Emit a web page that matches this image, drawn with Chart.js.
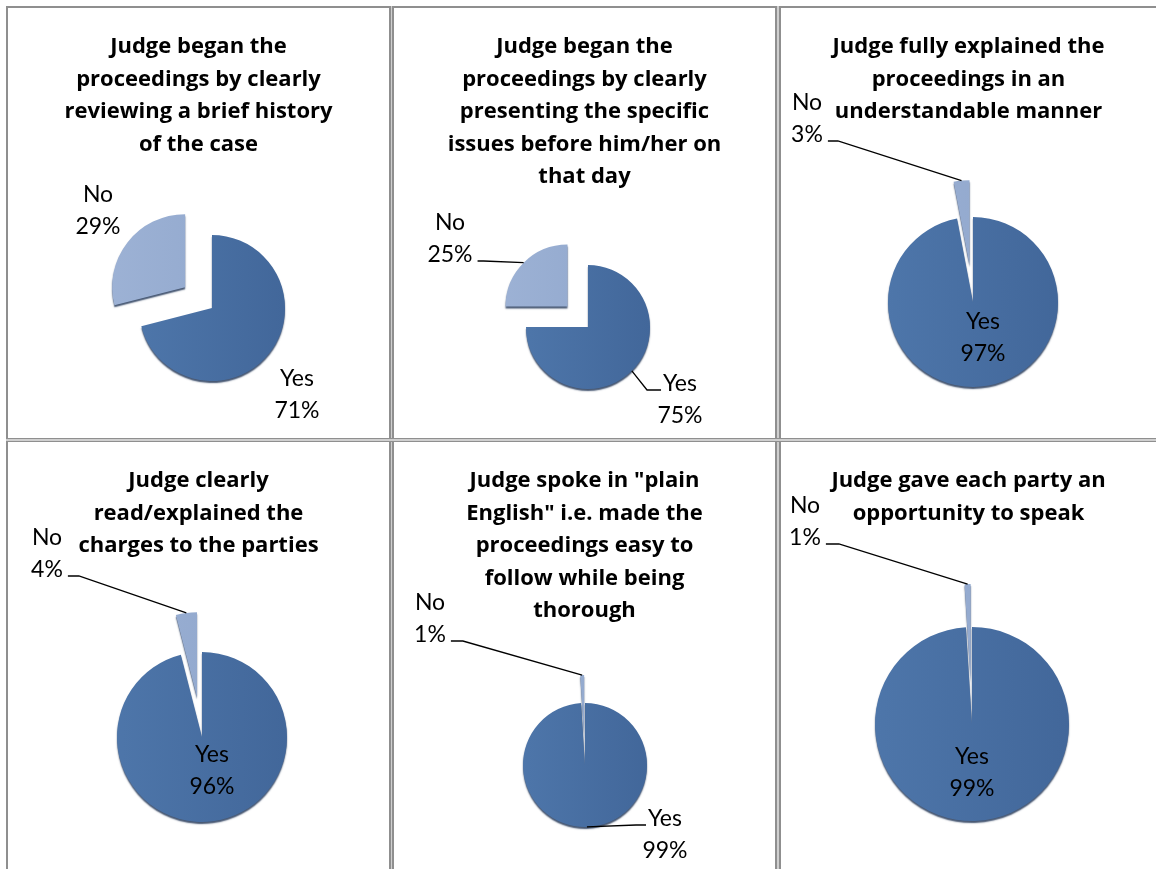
<!DOCTYPE html>
<html>
<head>
<meta charset="utf-8">
<title>Courtroom observation – judge conduct</title>
<script src="https://cdn.jsdelivr.net/npm/chart.js@4/dist/chart.umd.min.js"></script>
<style>
  html, body { margin: 0; padding: 0; background: #fff; }
  body { width: 1156px; height: 869px; position: relative; overflow: hidden; }
  .rule { position: absolute; background: #8f8f8f; }
  .rule.soft { background: #cfcfcf; }
  canvas { position: absolute; }
</style>
</head>
<body>
<script>
// ---- survey results -------------------------------------------------------
const categories = ['Yes', 'No'];
const yesShare = [71, 75, 97, 96, 99, 99];
const noShare  = [29, 25, 3, 4, 1, 1];

const questionTitles = [
  ['Judge began the', 'proceedings by clearly', 'reviewing a brief history', 'of the case'],
  ['Judge began the', 'proceedings by clearly', 'presenting the specific', 'issues before him/her on', 'that day'],
  ['Judge fully explained the', 'proceedings in an', 'understandable manner'],
  ['Judge clearly', 'read/explained the', 'charges to the parties'],
  ['Judge spoke in "plain', 'English" i.e. made the', 'proceedings easy to', 'follow while being', 'thorough'],
  ['Judge gave each party an', 'opportunity to speak']
];

// ---- page layout ----------------------------------------------------------
const COLS = [[8, 389], [394, 775], [781, 1156]];
const ROWS = [[8, 438], [442, 869]];
const TITLE_BASE = [53, 487];
const TITLE_STEP = 32.5;
const LABEL_STEP = 32;

// pie centre / radius / explosion and label anchors (relative to pie centre)
const panels = [
  { center: [212, 308], radius: 73, explode: 34,
    labels: [ { dx: 85,   dy: 78 }, { dx: -114, dy: -106 } ] },
  { center: [588, 327], radius: 62, explode: 29,
    labels: [ { dx: 92,   dy: 64,  leader: { side: 'left',  line: 0, run: 14 } },
              { dx: -138, dy: -97, leader: { side: 'right', line: 1, run: 6 } } ] },
  { center: [973, 302], radius: 85, explode: 37,
    labels: [ { dx: 10,   dy: 27 },
              { dx: -166, dy: -192, leader: { side: 'right', line: 1, run: 10 } } ] },
  { center: [202, 737], radius: 85, explode: 40,
    labels: [ { dx: 10,   dy: 25 },
              { dx: -155, dy: -192, leader: { side: 'right', line: 1, run: 11 } } ] },
  { center: [585, 765], radius: 62, explode: 28,
    labels: [ { dx: 80,   dy: 61,  leader: { side: 'left',  line: 0, run: 10 } },
              { dx: -155, dy: -155, leader: { side: 'right', line: 1, run: 12 } } ] },
  { center: [972, 724], radius: 97, explode: 43,
    labels: [ { dx: 0,    dy: 40 },
              { dx: -167, dy: -211, leader: { side: 'right', line: 1, run: 13 } } ] }
];

const TITLE_FONT = 'bold 22px "Open Sans", Lato, sans-serif';
const LABEL_FONT = '23px Lato, "Noto Sans", sans-serif';
const SLICE_COLORS = [['#5079ad', '#42679a'], ['#9db2d5', '#8ea5cb']];

// ---- table rules ----------------------------------------------------------
function rule(x, y, w, h, cls) {
  const d = document.createElement('div');
  d.className = 'rule' + (cls ? ' ' + cls : '');
  Object.assign(d.style, { left: x + 'px', top: y + 'px', width: w + 'px', height: h + 'px' });
  document.body.appendChild(d);
}
rule(6, 6, 1150, 2);
rule(6, 6, 2, 863);
rule(389, 6, 2, 863); rule(391, 6, 1, 863, 'soft'); rule(392, 6, 2, 863);
rule(775, 6, 2, 863); rule(777, 6, 2, 863, 'soft'); rule(779, 6, 2, 863);
rule(6, 438, 1150, 4);
rule(6, 439, 1150, 2, 'soft');
rule(6, 438, 1150, 1); rule(6, 441, 1150, 1);

// ---- plugins ----------------------------------------------------------------
// pulls exploded slices away from the centre along their mid angle
const explodeSlices = {
  id: 'explodeSlices',
  afterDatasetUpdate(chart, args, opts) {
    args.meta.data.forEach((arc, i) => {
      const e = opts.amounts[i] || 0;
      if (!e) return;
      const mid = (arc.startAngle + arc.endAngle) / 2;
      arc.x += Math.cos(mid) * e;
      arc.y += Math.sin(mid) * e;
    });
  }
};

// thin dark rim under the slices, slice labels with leader lines, and the title
const pieDecor = {
  id: 'pieDecor',
  beforeDatasetsDraw(chart) {
    const ctx = chart.ctx;
    ctx.save();
    ctx.shadowColor = 'rgba(36,56,88,0.85)';
    ctx.shadowOffsetY = 2;
    ctx.shadowBlur = 1.5;
  },
  afterDatasetsDraw(chart, args, opts) {
    const ctx = chart.ctx;
    ctx.restore();
    const meta = chart.getDatasetMeta(0);
    const values = chart.data.datasets[0].data;
    const cx = (chart.chartArea.left + chart.chartArea.right) / 2;
    const cy = (chart.chartArea.top + chart.chartArea.bottom) / 2;
    ctx.save();
    ctx.font = LABEL_FONT;
    ctx.fillStyle = '#000';
    ctx.textAlign = 'center';
    ctx.textBaseline = 'alphabetic';
    meta.data.forEach((arc, i) => {
      const spec = opts.labels[i];
      const lx = cx + spec.dx, ly = cy + spec.dy;
      const lines = [chart.data.labels[i], values[i] + '%'];
      lines.forEach((t, k) => ctx.fillText(t, lx, ly + k * LABEL_STEP));
      if (spec.leader) {
        const L = spec.leader;
        const w = ctx.measureText(lines[L.line]).width;
        const by = ly + L.line * LABEL_STEP - 1;
        const sx = L.side === 'right' ? lx + w / 2 + 5 : lx - w / 2 - 2;
        const ex = L.side === 'right' ? sx + L.run : sx - L.run;
        const mid = (arc.startAngle + arc.endAngle) / 2;
        const px = arc.x + Math.cos(mid) * arc.outerRadius;
        const py = arc.y + Math.sin(mid) * arc.outerRadius;
        ctx.beginPath();
        ctx.moveTo(sx, by);
        ctx.lineTo(ex, by);
        ctx.lineTo(px, py);
        ctx.lineWidth = 1.3;
        ctx.strokeStyle = '#000';
        ctx.stroke();
      }
    });
    ctx.restore();
  },
  afterDraw(chart, args, opts) {
    const ctx = chart.ctx;
    ctx.save();
    ctx.font = TITLE_FONT;
    ctx.fillStyle = '#000';
    ctx.textAlign = 'center';
    ctx.textBaseline = 'alphabetic';
    opts.title.forEach((t, k) => ctx.fillText(t, opts.titleX, opts.titleY + k * TITLE_STEP));
    ctx.restore();
  }
};

// ---- charts -----------------------------------------------------------------
panels.forEach((p, k) => {
  const col = COLS[k % 3], row = ROWS[Math.floor(k / 3)];
  const W = col[1] - col[0], H = row[1] - row[0];
  const canvas = document.createElement('canvas');
  canvas.width = W; canvas.height = H;
  Object.assign(canvas.style, { left: col[0] + 'px', top: row[0] + 'px', width: W + 'px', height: H + 'px' });
  document.body.appendChild(canvas);

  const cx = p.center[0] - col[0], cy = p.center[1] - row[0];
  const s = Math.max(1, Math.min(cx, W - cx, cy, H - cy) - 1);

  const shade = (ctx) => {
    const area = ctx.chart.chartArea;
    const pair = SLICE_COLORS[ctx.dataIndex] || SLICE_COLORS[0];
    if (!area) return pair[0];
    const mx = (area.left + area.right) / 2;
    const g = ctx.chart.ctx.createLinearGradient(mx - p.radius - p.explode, 0, mx + p.radius, 0);
    g.addColorStop(0, pair[0]);
    g.addColorStop(1, pair[1]);
    return g;
  };

  new Chart(canvas, {
    type: 'pie',
    data: {
      labels: categories,
      datasets: [{
        data: [yesShare[k], noShare[k]],
        backgroundColor: shade,
        borderWidth: 0,
        clip: false
      }]
    },
    options: {
      responsive: false,
      maintainAspectRatio: false,
      devicePixelRatio: 1,
      animation: false,
      events: [],
      radius: p.radius,
      layout: { padding: { left: cx - s, right: W - cx - s, top: cy - s, bottom: H - cy - s } },
      plugins: {
        legend: { display: false },
        tooltip: { enabled: false },
        title: { display: false },
        explodeSlices: { amounts: [0, p.explode] },
        pieDecor: {
          labels: p.labels,
          title: questionTitles[k],
          titleX: W / 2,
          titleY: TITLE_BASE[Math.floor(k / 3)] - row[0]
        }
      }
    },
    plugins: [explodeSlices, pieDecor]
  });
});
</script>
</body>
</html>
